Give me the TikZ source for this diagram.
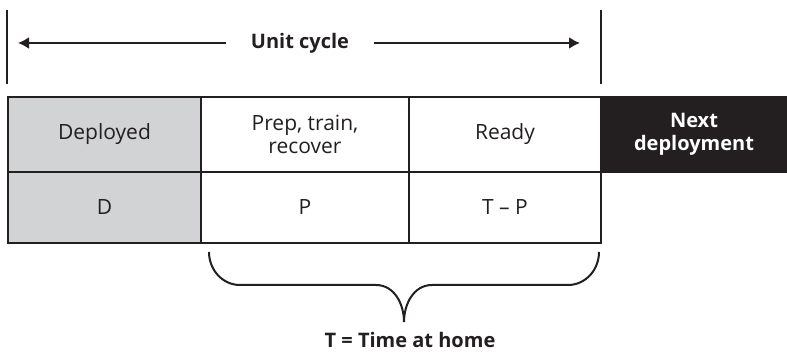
\documentclass[tikz,border=0pt]{standalone}
\usepackage{fontspec}
\setmainfont{Open Sans}
\usepackage{tikz}
\usetikzlibrary{arrows.meta}
\usetikzlibrary{positioning}
\definecolor{deploygray}{HTML}{D1D3D4}
\definecolor{inkblack}{HTML}{231F20}
\tikzset{
    cell/.style={
           rectangle,
           draw=inkblack, line width=1pt,
           outer sep=0pt,
           inner sep=2pt,
           align=center,
           text=inkblack,
           font=\fontsize{10.5}{11.5}\selectfont,
           },
    toprow/.style={cell, minimum height=37.5pt},
    botrow/.style={cell, minimum height=35.5pt},
    caption/.style={
           text=inkblack,
           font=\fontsize{10}{11.5}\selectfont\bfseries,
           },
    bar/.style={draw=inkblack, line width=1pt},
}

\begin{document}
\begin{tikzpicture}[x=1pt,y=1pt,->,>={Latex[length=5.5pt,width=6pt]}]
 \useasboundingbox (0,0) rectangle (393.5,176);

 % unit cycle
 \draw[bar,-] (3.5,171) -- (3.5,134);
 \draw[bar,-] (300.5,171) -- (300.5,134);
 \node[caption, inner xsep=12.5pt] (cycle) at (150,154.5) {Unit cycle};
 \coordinate (cycleL) at (9,154.5);
 \coordinate (cycleR) at (290,154.5);
 \draw[bar] (cycle.west) -- (cycleL);
 \draw[bar] (cycle.east) -- (cycleR);

 % top row
 \node[toprow, fill=deploygray, minimum width=96.5pt, anchor=north west] (dep) at (4,127.5) {Deployed};
 \node[toprow, minimum width=104pt, right=0pt of dep] (prep) {Prep, train,\\recover};
 \node[toprow, minimum width=96pt, right=0pt of prep] (ready) {Ready};
 \node[toprow, fill=inkblack, text=white, font=\fontsize{10}{11.5}\selectfont\bfseries,
       minimum width=93pt, right=0pt of ready] (next) {Next\\deployment};

 % bottom row
 \node[botrow, fill=deploygray, minimum width=96.5pt, below=0pt of dep] (d) {D};
 \node[botrow, minimum width=104pt, right=0pt of d] (p) {P};
 \node[botrow, minimum width=96pt, right=0pt of p] (tp) {T -- P};

 % time at home
 \draw[bar,-] (104.5,50) to[out=-90,in=180] (120,33.5) -- (188,33.5)
   to[out=0,in=90] (202,15) to[out=90,in=180] (216,33.5) -- (284,33.5)
   to[out=0,in=-90] (299.5,50);
 \node[caption] (home) at (205,6) {T = Time at home};

\end{tikzpicture}
\end{document}
